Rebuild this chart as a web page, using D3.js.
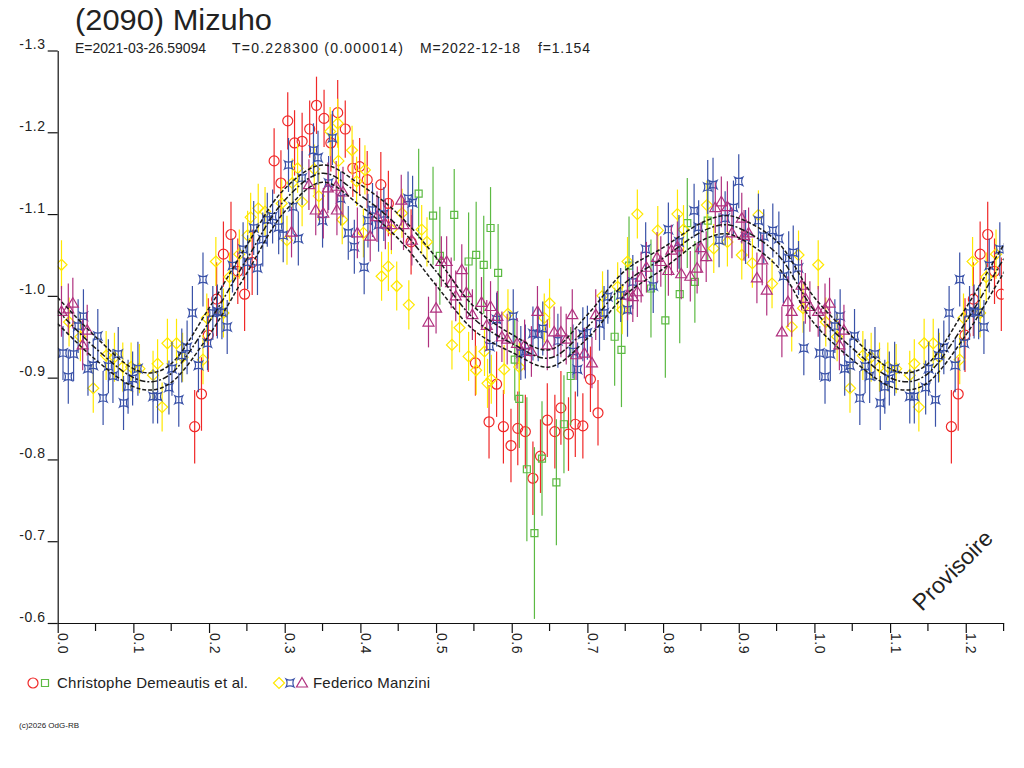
<!DOCTYPE html>
<html><head><meta charset="utf-8">
<script src="https://cdn.jsdelivr.net/npm/d3@7"></script>
<style>html,body{margin:0;padding:0;background:#fff;} svg{display:block;font-family:"Liberation Sans",Arial,sans-serif;}</style>
</head><body><svg id="c" width="1024" height="768"></svg>
<script>
// ---------- data ----------
const titleText = "(2090) Mizuho";
const subFields = ["E=2021-03-26.59094", "T=0.228300 (0.000014)", "M=2022-12-18", "f=1.154"];
const yTicks = [-1.3, -1.2, -1.1, -1.0, -0.9, -0.8, -0.7, -0.6];
const xMajor = [0.0, 0.1, 0.2, 0.3, 0.4, 0.5, 0.6, 0.7, 0.8, 0.9, 1.0, 1.1, 1.2];
const xMinor = [0.05, 0.15, 0.25, 0.35, 0.45, 0.55, 0.65, 0.75, 0.85, 0.95, 1.05, 1.15, 1.25];
const legendNames = ["Christophe Demeautis et al.", "Federico Manzini"];

// fit curves (phase, magnitude): central and envelope
const fitPhase = [0.00,0.05,0.10,0.125,0.15,0.20,0.25,0.30,0.35,0.40,0.45,0.50,0.55,0.60,0.65,0.70,0.75,0.80,0.85,0.88,0.90,0.95,1.00];
const fitMid = [-0.982,-0.936,-0.900,-0.895,-0.905,-0.968,-1.045,-1.117,-1.150,-1.123,-1.085,-1.030,-0.972,-0.942,-0.924,-0.962,-1.016,-1.046,-1.078,-1.087,-1.083,-1.052,-0.982];
const fitHi  = [-0.998,-0.950,-0.911,-0.906,-0.917,-0.985,-1.062,-1.131,-1.160,-1.136,-1.100,-1.047,-0.987,-0.953,-0.934,-0.977,-1.031,-1.059,-1.089,-1.098,-1.095,-1.067,-0.998];
const fitLo  = [-0.966,-0.922,-0.889,-0.885,-0.894,-0.952,-1.028,-1.103,-1.139,-1.110,-1.070,-1.013,-0.958,-0.931,-0.913,-0.948,-1.001,-1.033,-1.067,-1.076,-1.071,-1.037,-0.966];

// observations: [phase, magnitude, error]
const red = [
[0.181,-0.840,0.045],[0.190,-0.880,0.045],[0.199,-0.952,0.045],[0.210,-0.996,0.045],[0.219,-1.051,0.04],[0.229,-1.075,0.04],
[0.238,-1.030,0.04],[0.247,-1.002,0.045],[0.257,-1.041,0.04],[0.286,-1.165,0.04],[0.295,-1.138,0.04],[0.304,-1.214,0.035],
[0.313,-1.187,0.04],[0.323,-1.189,0.035],[0.333,-1.204,0.035],[0.342,-1.233,0.035],[0.352,-1.217,0.035],[0.361,-1.187,0.035],
[0.370,-1.224,0.04],[0.380,-1.204,0.035],[0.390,-1.156,0.035],[0.399,-1.158,0.035],[0.409,-1.142,0.035],[0.427,-1.136,0.04],
[0.437,-1.113,0.04],[0.467,-1.066,0.04],[0.552,-0.918,0.04],[0.570,-0.846,0.045],[0.580,-0.892,0.04],[0.589,-0.840,0.045],
[0.599,-0.817,0.045],[0.608,-0.838,0.045],[0.618,-0.834,0.045],[0.628,-0.777,0.045],[0.638,-0.804,0.045],[0.647,-0.848,0.045],
[0.657,-0.834,0.045],[0.665,-0.863,0.045],[0.675,-0.831,0.045],[0.684,-0.843,0.04],[0.694,-0.841,0.04],[0.704,-0.898,0.04],
[0.714,-0.857,0.04]
];
const green = [
[0.477,-1.125,0.055],[0.496,-1.098,0.06],[0.505,-1.049,0.06],[0.524,-1.099,0.056],[0.543,-1.042,0.06],[0.553,-1.050,0.065],
[0.563,-1.038,0.06],[0.572,-1.083,0.05],[0.582,-1.028,0.06],[0.604,-0.922,0.05],[0.610,-0.874,0.06],[0.620,-0.788,0.088],
[0.630,-0.710,0.105],[0.640,-0.801,0.07],[0.659,-0.772,0.077],[0.669,-0.843,0.06],[0.678,-0.902,0.06],[0.736,-0.950,0.06],
[0.745,-0.934,0.07],[0.755,-1.037,0.06],[0.784,-1.009,0.06],[0.803,-0.970,0.07],[0.822,-1.002,0.06],[0.832,-1.089,0.055],
[0.842,-1.017,0.05],[0.859,-1.092,0.05]
];
const yellow = [
[0.005,-1.038,0.03],[0.015,-0.968,0.03],[0.030,-0.950,0.03],[0.047,-0.887,0.03],[0.064,-0.927,0.03],[0.075,-0.925,0.03],
[0.086,-0.913,0.03],[0.097,-0.913,0.03],[0.108,-0.911,0.03],[0.126,-0.903,0.03],[0.132,-0.917,0.03],[0.138,-0.864,0.03],
[0.145,-0.942,0.03],[0.157,-0.942,0.03],[0.165,-0.925,0.03],[0.192,-0.922,0.03],[0.197,-0.973,0.03],[0.209,-1.042,0.03],
[0.219,-0.979,0.03],[0.227,-1.023,0.03],[0.240,-1.051,0.03],[0.251,-1.074,0.03],[0.255,-1.096,0.03],[0.265,-1.107,0.03],
[0.274,-1.103,0.03],[0.296,-1.113,0.03],[0.303,-1.068,0.03],[0.310,-1.138,0.03],[0.317,-1.156,0.03],[0.323,-1.115,0.03],
[0.339,-1.155,0.03],[0.345,-1.122,0.03],[0.360,-1.201,0.03],[0.370,-1.211,0.03],[0.371,-1.165,0.03],[0.376,-1.093,0.03],
[0.389,-1.178,0.03],[0.395,-1.140,0.03],[0.404,-1.077,0.03],[0.406,-1.154,0.03],[0.428,-1.024,0.03],[0.437,-1.036,0.03],
[0.441,-1.081,0.03],[0.448,-1.012,0.03],[0.455,-1.101,0.03],[0.464,-0.989,0.03],[0.481,-1.081,0.03],[0.488,-1.066,0.03],
[0.521,-0.940,0.03],[0.531,-0.961,0.03],[0.543,-0.926,0.03],[0.553,-0.909,0.03],[0.564,-0.932,0.03],[0.568,-0.893,0.03],
[0.573,-0.898,0.03],[0.590,-0.910,0.03],[0.595,-0.978,0.03],[0.610,-0.913,0.03],[0.643,-0.973,0.03],[0.650,-0.991,0.03],
[0.720,-1.000,0.03],[0.740,-1.011,0.03],[0.746,-0.983,0.03],[0.753,-1.042,0.03],[0.766,-1.100,0.03],[0.793,-1.080,0.03],
[0.819,-1.100,0.03],[0.827,-1.081,0.03],[0.858,-1.111,0.03],[0.867,-1.058,0.03],[0.885,-1.066,0.03],[0.904,-1.050,0.03],
[0.918,-1.040,0.03],[0.926,-1.099,0.03],[0.944,-1.015,0.03],[0.970,-0.962,0.03],[0.979,-1.050,0.03],[0.985,-0.985,0.03]
];
const blue = [
[0.007,-0.930,0.033],[0.014,-0.901,0.033],[0.021,-0.929,0.033],[0.027,-0.963,0.033],[0.034,-0.975,0.033],[0.040,-0.911,0.033],
[0.047,-0.915,0.033],[0.053,-0.951,0.033],[0.060,-0.875,0.033],[0.067,-0.914,0.033],[0.073,-0.902,0.033],[0.080,-0.929,0.033],
[0.087,-0.869,0.033],[0.093,-0.889,0.033],[0.099,-0.899,0.033],[0.106,-0.911,0.033],[0.126,-0.877,0.033],[0.132,-0.877,0.033],
[0.147,-0.888,0.033],[0.151,-0.911,0.033],[0.160,-0.873,0.033],[0.164,-0.927,0.033],[0.171,-0.937,0.033],[0.178,-0.979,0.033],
[0.186,-0.915,0.033],[0.192,-1.020,0.033],[0.198,-0.942,0.033],[0.205,-0.979,0.033],[0.211,-0.981,0.033],[0.217,-0.980,0.033],
[0.224,-0.962,0.033],[0.231,-1.037,0.033],[0.245,-1.057,0.033],[0.251,-1.041,0.033],[0.259,-1.083,0.033],[0.264,-1.034,0.033],
[0.271,-1.069,0.033],[0.277,-1.093,0.033],[0.284,-1.097,0.033],[0.292,-1.084,0.033],[0.298,-1.074,0.033],[0.305,-1.160,0.033],
[0.311,-1.109,0.033],[0.318,-1.070,0.033],[0.323,-1.144,0.033],[0.338,-1.178,0.033],[0.344,-1.169,0.033],[0.350,-1.092,0.033],
[0.358,-1.138,0.033],[0.363,-1.193,0.033],[0.374,-1.119,0.033],[0.384,-1.077,0.033],[0.392,-1.060,0.033],[0.405,-1.035,0.033],
[0.410,-1.092,0.033],[0.416,-1.105,0.033],[0.424,-1.087,0.033],[0.431,-1.100,0.033],[0.463,-1.119,0.033],[0.469,-1.114,0.033],
[0.571,-0.938,0.033],[0.580,-0.971,0.033],[0.602,-0.975,0.033],[0.612,-0.930,0.033],[0.618,-0.932,0.033],[0.628,-0.954,0.033],
[0.635,-0.953,0.033],[0.641,-0.960,0.033],[0.661,-0.945,0.033],[0.681,-0.932,0.033],[0.687,-0.910,0.033],[0.694,-0.953,0.033],
[0.700,-0.955,0.033],[0.716,-0.966,0.033],[0.722,-0.979,0.033],[0.727,-0.999,0.033],[0.744,-1.001,0.033],[0.753,-0.983,0.033],
[0.760,-1.017,0.033],[0.777,-1.057,0.033],[0.787,-1.012,0.033],[0.807,-1.081,0.033],[0.821,-1.066,0.033],[0.841,-1.104,0.033],
[0.847,-1.084,0.033],[0.859,-1.133,0.033],[0.866,-1.136,0.033],[0.874,-1.068,0.033],[0.882,-1.095,0.033],[0.893,-1.108,0.033],
[0.900,-1.140,0.033],[0.909,-1.072,0.033],[0.926,-1.092,0.033],[0.933,-1.073,0.033],[0.945,-1.080,0.033],[0.953,-1.070,0.033],
[0.959,-1.024,0.033],[0.966,-1.046,0.033],[0.972,-1.053,0.033],[0.979,-1.034,0.033],[0.986,-0.936,0.033]
];
const purple = [
[0.005,-0.981,0.031],[0.014,-0.984,0.031],[0.020,-0.991,0.031],[0.033,-0.940,0.031],[0.039,-0.958,0.031],[0.309,-1.078,0.031],
[0.332,-1.136,0.031],[0.341,-1.105,0.031],[0.351,-1.101,0.031],[0.357,-1.132,0.031],[0.368,-1.134,0.031],[0.369,-1.105,0.031],
[0.377,-1.127,0.031],[0.396,-1.077,0.031],[0.413,-1.073,0.031],[0.422,-1.097,0.031],[0.433,-1.088,0.031],[0.441,-1.087,0.031],
[0.454,-1.117,0.031],[0.457,-1.087,0.031],[0.468,-1.068,0.031],[0.490,-0.968,0.031],[0.500,-0.985,0.031],[0.507,-1.042,0.031],
[0.514,-1.042,0.031],[0.520,-1.016,0.031],[0.526,-1.000,0.031],[0.534,-1.032,0.031],[0.540,-1.004,0.031],[0.548,-0.977,0.031],
[0.560,-0.992,0.031],[0.567,-0.964,0.031],[0.572,-0.987,0.031],[0.581,-0.975,0.031],[0.587,-0.950,0.031],[0.594,-0.947,0.031],
[0.607,-0.942,0.031],[0.617,-0.940,0.031],[0.626,-0.932,0.031],[0.634,-0.981,0.031],[0.647,-0.940,0.031],[0.656,-0.956,0.031],
[0.665,-0.956,0.031],[0.672,-0.947,0.031],[0.680,-0.977,0.031],[0.685,-0.928,0.031],[0.696,-0.930,0.031],[0.706,-0.918,0.031],
[0.711,-0.977,0.031],[0.753,-1.001,0.031],[0.760,-0.999,0.031],[0.766,-1.005,0.031],[0.771,-1.023,0.031],[0.778,-1.035,0.031],
[0.792,-1.047,0.031],[0.797,-1.042,0.031],[0.807,-1.031,0.031],[0.811,-1.056,0.031],[0.819,-1.060,0.031],[0.824,-1.027,0.031],
[0.836,-1.024,0.031],[0.845,-1.034,0.031],[0.850,-1.059,0.031],[0.857,-1.048,0.031],[0.869,-1.108,0.031],[0.877,-1.115,0.031],
[0.885,-1.109,0.031],[0.891,-1.077,0.031],[0.904,-1.095,0.031],[0.907,-1.074,0.031],[0.913,-1.077,0.031],[0.924,-1.022,0.031],
[0.931,-1.044,0.031],[0.937,-1.007,0.031],[0.957,-0.956,0.031],[0.965,-0.993,0.031],[0.970,-0.981,0.031],[0.983,-1.013,0.031],
[0.988,-0.997,0.031],[0.994,-0.987,0.031]
];

// ---------- drawing ----------
const svg = d3.select("#c");
const txt = "#222";
const x = d3.scaleLinear().domain([0, 1.25]).range([57.7, 1003.6]);
const y = d3.scaleLinear().domain([-1.3, -0.6]).range([50.5, 623]);

const shapes = {
  circle: "M5,0A5,5 0 1,1 -5,0A5,5 0 1,1 5,0Z",
  square: "M-3.5,-3.5H3.5V3.5H-3.5Z",
  diamond: "M0,-5.5L5.5,0L0,5.5L-5.5,0Z",
  star: "M-4,-4Q0,-1.8 4,-4Q1.8,0 4,4Q0,1.8 -4,4Q-1.8,0 -4,-4Z",
  triangle: "M0,-5.5L5.5,4L-5.5,4Z"
};
const series = [
  {data: red, color: "#f02828", shape: "circle"},
  {data: green, color: "#5cba43", shape: "square"},
  {data: yellow, color: "#ffe800", shape: "diamond"},
  {data: blue, color: "#3a52a8", shape: "star"},
  {data: purple, color: "#b0317f", shape: "triangle"}
];

svg.append("defs").append("clipPath").attr("id", "plot")
  .append("rect").attr("x", x(0)).attr("y", 0).attr("width", x(1.25) - x(0)).attr("height", y(-0.6));

const plot = svg.append("g").attr("clip-path", "url(#plot)");

series.forEach(s => {
  const pts = [];
  s.data.forEach(d => {
    pts.push(d);
    if (d[0] + 1 <= 1.25) pts.push([d[0] + 1, d[1], d[2]]);
  });
  const g = plot.append("g");
  g.selectAll("line").data(pts).join("line")
    .attr("x1", d => x(d[0])).attr("x2", d => x(d[0]))
    .attr("y1", d => y(d[1] - d[2])).attr("y2", d => y(d[1] + d[2]))
    .attr("stroke", s.color).attr("stroke-width", 1.2);
  g.selectAll("path").data(pts).join("path")
    .attr("d", shapes[s.shape])
    .attr("transform", d => `translate(${x(d[0])},${y(d[1])})`)
    .attr("fill", "none").attr("stroke", s.color).attr("stroke-width", 1.2);
});

// fit curves
const line = d3.line().x(d => x(d[0])).y(d => y(d[1])).curve(d3.curveCatmullRom);
[[fitHi, "4,2"], [fitMid, "6,2,2,2"], [fitLo, "4,2"]].forEach(([arr, dash]) => {
  const base = fitPhase.map((p, i) => [p, arr[i]]);
  const pts = base.concat(base.slice(1).filter(d => d[0] <= 0.35).map(d => [d[0] + 1, d[1]]));
  plot.append("path").attr("d", line(pts)).attr("fill", "none")
    .attr("stroke", "#1a1a1a").attr("stroke-width", 1.5).attr("stroke-dasharray", dash);
});

// axes
const yAxis = svg.append("g").attr("transform", `translate(${x(0)},0)`)
  .call(d3.axisLeft(y).tickValues(yTicks).tickSize(10).tickSizeOuter(0).tickFormat(d => d.toFixed(1)));
yAxis.selectAll("text").attr("dy", "-2px").attr("x", -12).style("font-size", "14px").style("letter-spacing", "0.6px").attr("fill", txt);

const xAxis = svg.append("g").attr("transform", `translate(0,${y(-0.6)})`)
  .call(d3.axisBottom(x).tickValues(xMajor).tickSize(10).tickSizeOuter(0).tickFormat(d => d.toFixed(1)));
xAxis.selectAll("text").attr("transform", "rotate(90)").attr("x", 10).attr("y", 0).attr("dy", "0")
  .attr("text-anchor", "start").style("font-size", "14px").style("letter-spacing", "0.5px").attr("fill", txt);
xAxis.append("g").selectAll("line").data(xMinor).join("line")
  .attr("x1", d => x(d)).attr("x2", d => x(d)).attr("y1", 0).attr("y2", 8).attr("stroke", "currentColor");
svg.selectAll(".domain, .tick line").attr("stroke", "#111").attr("stroke-width", 1.2);
xAxis.selectAll("line").attr("stroke", "#111").attr("stroke-width", 1.2);

// titles
svg.append("text").attr("x", 75).attr("y", 30).text(titleText)
  .style("font-size", "29px").attr("fill", txt).attr("textLength", 197).attr("lengthAdjust", "spacingAndGlyphs");
const subX = [75, 232, 420, 538];
const subW = [131, 171, 100, 52];
subFields.forEach((t, i) => svg.append("text").attr("x", subX[i]).attr("y", 53).text(t)
  .style("font-size", "14px").attr("fill", txt).attr("textLength", subW[i]).attr("lengthAdjust", "spacing"));

// legend
const leg = [
  {x: 57, w: 191, name: legendNames[0], marks: [["circle", "#f02828", 33], ["square", "#5cba43", 45]]},
  {x: 313, w: 117, name: legendNames[1], marks: [["diamond", "#ffe800", 279], ["star", "#3a52a8", 290], ["triangle", "#b0317f", 302]]}
];
leg.forEach(l => {
  l.marks.forEach(m => svg.append("path").attr("d", shapes[m[0]]).attr("transform", `translate(${m[2]},683)`)
    .attr("fill", "none").attr("stroke", m[1]).attr("stroke-width", 1.2));
  svg.append("text").attr("x", l.x).attr("y", 688).text(l.name).style("font-size", "15px").attr("fill", txt)
    .attr("textLength", l.w).attr("lengthAdjust", "spacing");
});

svg.append("text").attr("x", 19).attr("y", 728).text("(c)2026 OdG-RB").style("font-size", "8px").attr("fill", txt);

svg.append("text").attr("transform", "translate(922,612) rotate(-45)").text("Provisoire")
  .style("font-size", "23px").attr("fill", txt);
</script></body></html>
